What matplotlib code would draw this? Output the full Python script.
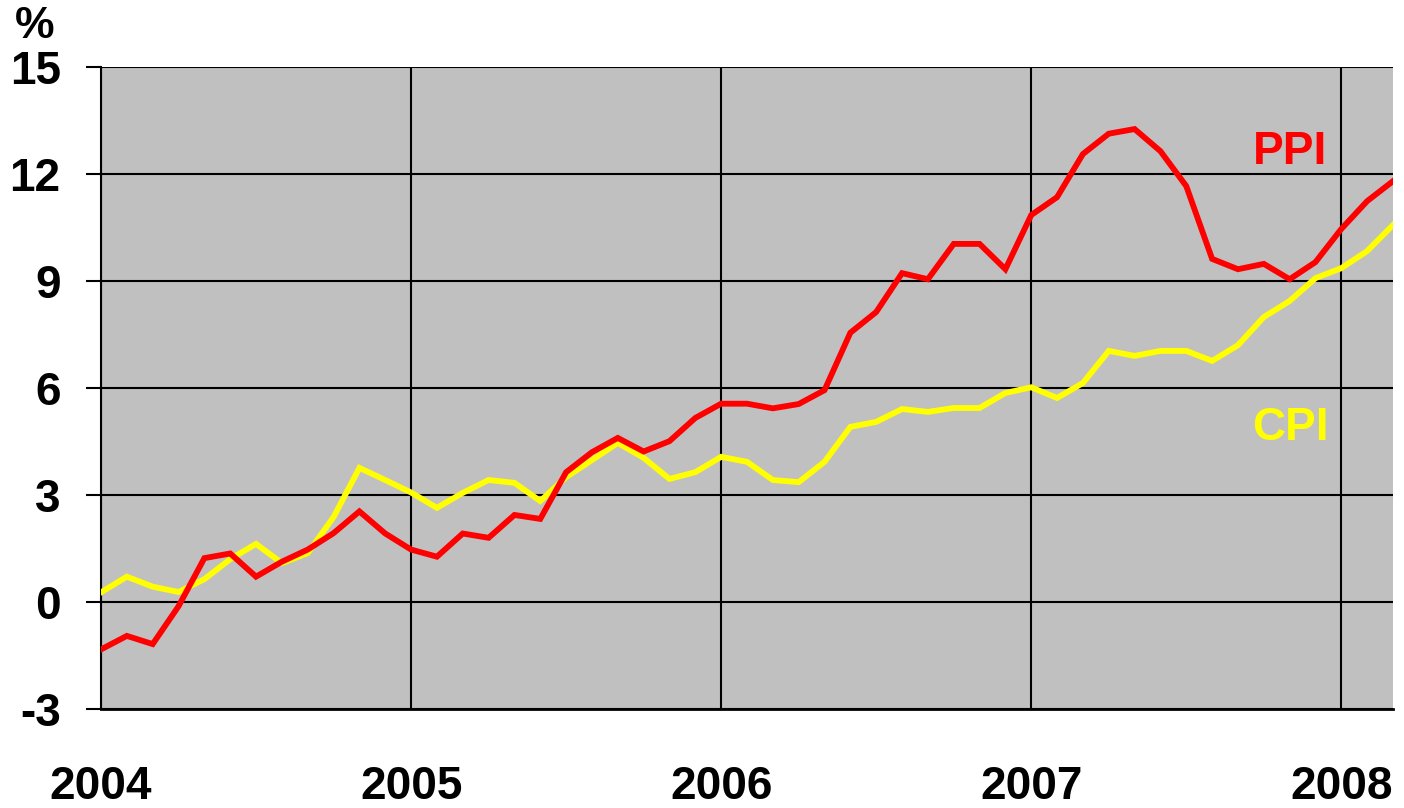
import matplotlib.pyplot as plt
import numpy as np

# monthly year-on-year inflation, Jan 2004 .. Mar 2008
years = ["2004", "2005", "2006", "2007", "2008"]
ppi = [-1.33, -0.95, -1.18, -0.12, 1.23, 1.36, 0.71, 1.13, 1.47, 1.93, 2.54, 1.92, 1.47,
       1.27, 1.92, 1.80, 2.44, 2.33, 3.64, 4.20, 4.60, 4.22, 4.51, 5.16, 5.56,
       5.56, 5.43, 5.55, 5.94, 7.55, 8.13, 9.22, 9.05, 10.04, 10.04, 9.33, 10.85,
       11.35, 12.56, 13.13, 13.26, 12.64, 11.66, 9.62, 9.33, 9.48, 9.05, 9.53, 10.46,
       11.24, 11.80]
cpi = [0.27, 0.71, 0.43, 0.28, 0.64, 1.20, 1.63, 1.09, 1.37, 2.38, 3.76, 3.42, 3.07,
       2.64, 3.06, 3.42, 3.34, 2.83, 3.50, 3.98, 4.46, 4.04, 3.45, 3.64, 4.07,
       3.93, 3.42, 3.36, 3.93, 4.91, 5.05, 5.41, 5.33, 5.44, 5.44, 5.86, 6.02,
       5.72, 6.14, 7.04, 6.90, 7.04, 7.04, 6.76, 7.20, 7.99, 8.44, 9.08, 9.36,
       9.84, 10.57]

plt.rcParams['font.family'] = ['Liberation Sans', 'DejaVu Sans']
plt.rcParams['font.weight'] = 'bold'

fig = plt.figure(figsize=(14.04, 8.08), dpi=100)
ax = fig.add_axes([101 / 1404, 1 - 709 / 808, 1292 / 1404, 642 / 808])
ax.set_facecolor('#c0c0c0')

x = np.arange(len(ppi))
ax.plot(x, cpi, color='#ffff00', lw=4.2, solid_joinstyle='miter', zorder=3)
ax.plot(x, ppi, color='#ff0000', lw=4.2, solid_joinstyle='miter', zorder=4)

ax.set_xlim(0, len(ppi) - 1)
ax.set_ylim(-3, 15)
ax.set_yticks(range(-3, 16, 3))
ax.set_yticklabels([str(v) for v in range(-3, 16, 3)], fontsize=33, fontweight='bold')
ax.set_xticks([0, 12, 24, 36, 48])
ax.set_xticklabels(years, fontsize=33, fontweight='bold')

ax.grid(True, color='black', lw=1.5, zorder=1)
ax.set_axisbelow(True)
ax.tick_params(axis='y', length=11, width=1.5, pad=18)
ax.tick_params(axis='x', length=0, pad=40)

for s in ['top', 'right']:
    ax.spines[s].set_visible(False)
ax.spines['left'].set_linewidth(1.5)
ax.spines['bottom'].set_linewidth(2)

ax.text(1290 / 1404, 1 - 152 / 808, "PPI", transform=fig.transFigure, color='#ff0000',
        fontsize=33, fontweight='bold', ha='center', va='center')
ax.text(1290 / 1404, 1 - 428 / 808, "CPI", transform=fig.transFigure, color='#ffff00',
        fontsize=33, fontweight='bold', ha='center', va='center')
fig.text(35 / 1404, 1 - 27 / 808, "%", fontsize=32, fontweight='bold', ha='center', va='center')

fig.savefig("out.png", dpi=100)
